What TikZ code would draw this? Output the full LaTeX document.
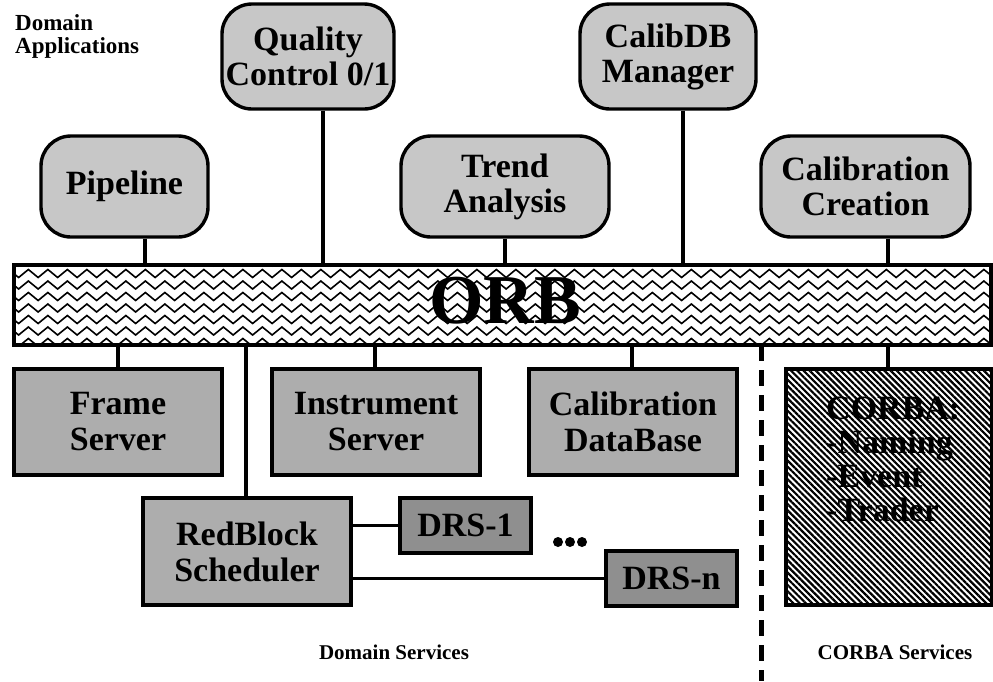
\documentclass[tikz,border=0pt]{standalone}
\usepackage{fontspec}
\setmainfont{Liberation Serif}
\usetikzlibrary{patterns.meta,decorations.pathmorphing}
\definecolor{appgray}{gray}{0.78}
\definecolor{srvgray}{gray}{0.68}
\definecolor{drsgray}{gray}{0.56}
\begin{document}
\begin{tikzpicture}[x=1pt,y=-1pt,
  app/.style={draw,line width=3.4pt,rounded corners=30pt,fill=appgray,align=center,
    font=\fontsize{34}{35}\selectfont\bfseries,inner sep=0pt},
  srv/.style={draw,line width=3.6pt,fill=srvgray,align=center,
    font=\fontsize{34}{36}\selectfont\bfseries,inner sep=0pt},
  drsbox/.style={srv,fill=drsgray},
  link/.style={line width=3.3pt},
  caption/.style={font=\fontsize{21}{21}\selectfont\bfseries,inner sep=0pt,align=left}
]
\useasboundingbox[fill=white] (0,0) rectangle (993,681);

% x positions of the connectors
\coordinate (xpipe) at (145,0);
\coordinate (xqc) at (323,0);
\coordinate (xtrend) at (505,0);
\coordinate (xcdm) at (683,0);
\coordinate (xccr) at (888,0);
\coordinate (xfs) at (118,0);
\coordinate (xrbs) at (246,0);
\coordinate (xis) at (375,0);
\coordinate (xcdb) at (632,0);
\coordinate (xsep) at (761,0);
\coordinate (sepend) at (761,681);

% heading
\node[caption,font=\fontsize{23}{23}\selectfont\bfseries,anchor=north west] (dapp) at (15,14) {Domain\\Applications};

% domain applications
\node[app,minimum width=172pt,minimum height=105pt] (qc) at (308,56.5) {Quality\\Control 0/1};
\node[app,minimum width=176pt,minimum height=105pt] (cdm) at (668,56.5) {CalibDB\\Manager};
\node[app,minimum width=167pt,minimum height=101pt] (pipe) at (124.5,186.5) {Pipeline};
\node[app,minimum width=208pt,minimum height=101pt] (trend) at (505,186.5) {Trend\\Analysis};
\node[app,minimum width=209pt,minimum height=101pt] (ccr) at (865.5,186.5) {Calibration\\Creation};

% the ORB bus with its zigzag fill
\node[minimum width=977pt,minimum height=80pt,inner sep=0pt] (orb) at (502.5,305) {};
\begin{scope}
  \clip (14,265) rectangle (991,345);
  \foreach \k in {0,...,7}
    \draw[line width=1.6pt,decorate,decoration={zigzag,segment length=19.5pt,amplitude=4pt}]
      (4,{262+11.5*\k}) -- (1000,{262+11.5*\k});
\end{scope}
\draw[line width=3.8pt] (orb.south west) rectangle (orb.north east);
\node[font=\fontsize{70}{70}\selectfont\bfseries,inner sep=0pt] (orbtext) at (505,301) {ORB};

% application connectors
\draw[link] (pipe.south -| xpipe) -- (orb.north -| xpipe);
\draw[link] (qc.south -| xqc) -- (orb.north -| xqc);
\draw[link] (trend.south -| xtrend) -- (orb.north -| xtrend);
\draw[link] (cdm.south -| xcdm) -- (orb.north -| xcdm);
\draw[link] (ccr.south -| xccr) -- (orb.north -| xccr);

% domain services
\node[srv,minimum width=208pt,minimum height=106pt] (fs) at (118,422) {Frame\\Server};
\node[srv,minimum width=208pt,minimum height=106pt] (is) at (376,422) {Instrument\\Server};
\node[srv,minimum width=208pt,minimum height=106pt] (cdb) at (633,422) {Calibration\\DataBase};
\node[srv,minimum width=208pt,minimum height=107pt] (rbs) at (247,551.5) {RedBlock\\Scheduler};
\node[drsbox,minimum width=131pt,minimum height=55pt] (drs1) at (465.5,525.5) {DRS-1};
\node[drsbox,minimum width=131pt,minimum height=55pt] (drsn) at (671.5,578.5) {DRS-n};
\fill (558,542) circle (5pt) (570,542) circle (5pt) (582,542) circle (5pt);

% CORBA services
\node[draw,line width=3.6pt,minimum width=206pt,minimum height=236pt,inner sep=0pt,
  pattern={Lines[angle=-45,distance=4.4pt,line width=2.2pt]}] (corba) at (889,487) {};
\node[font=\fontsize{34}{34}\selectfont\bfseries,align=left,anchor=north west,inner sep=0pt]
  (corbatxt) at (826,397) {CORBA:\\-Naming\\-Event\\-Trader};

% service connectors
\draw[link] (orb.south -| xfs) -- (fs.north -| xfs);
\draw[link] (orb.south -| xrbs) -- (rbs.north -| xrbs);
\draw[link] (orb.south -| xis) -- (is.north -| xis);
\draw[link] (orb.south -| xcdb) -- (cdb.north -| xcdb);
\draw[link] (orb.south -| xccr) -- (corba.north -| xccr);
\draw[link] (rbs.east |- drs1.west) -- (drs1.west);
\draw[link] (rbs.east |- drsn.west) -- (drsn.west);

% separator between domain and CORBA services
\draw[line width=5pt,dash pattern=on 16pt off 9pt] (orb.south -| xsep) -- (sepend);

% bottom captions
\node[caption] (dsv) at (394,652) {Domain Services};
\node[caption] (csv) at (895,652) {CORBA Services};
\end{tikzpicture}
\end{document}
